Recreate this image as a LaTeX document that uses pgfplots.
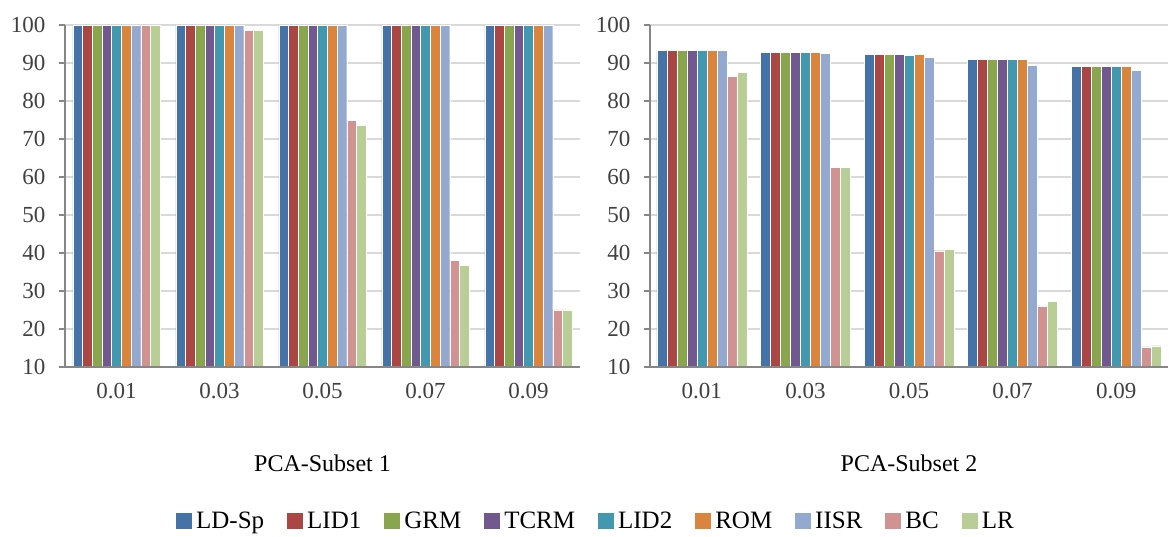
\documentclass[border=0pt]{standalone}
\usepackage{pgfplots}
\pgfplotsset{compat=1.18}
\usepackage{pgfplotstable}
\usepackage{fontspec}
\setmainfont{Liberation Serif}
\definecolor{c1}{HTML}{4572A7}
\definecolor{c2}{HTML}{AA4643}
\definecolor{c3}{HTML}{89A54E}
\definecolor{c4}{HTML}{71588F}
\definecolor{c5}{HTML}{4198AF}
\definecolor{c6}{HTML}{DB843D}
\definecolor{c7}{HTML}{93A9CF}
\definecolor{c8}{HTML}{D19392}
\definecolor{c9}{HTML}{B9CD96}
\definecolor{axisgray}{HTML}{868686}
\definecolor{gridgray}{HTML}{D9D9D9}
\definecolor{labelgray}{HTML}{404040}

\pgfplotstableread{
x LDSp LID1 GRM TCRM LID2 ROM IISR BC LR
0 100 100 100 100 100 100 100 100 100
1 100 100 100 100 100 100 100 98.6 98.6
2 100 100 100 100 100 100 100 75 73.7
3 100 100 100 100 100 100 100 38.1 36.8
4 100 100 100 100 100 100 100 25 25
}\subsetone

\pgfplotstableread{
x LDSp LID1 GRM TCRM LID2 ROM IISR BC LR
0 93.4 93.4 93.4 93.4 93.4 93.4 93.4 86.5 87.5
1 92.8 92.8 92.8 92.8 92.8 92.8 92.5 62.5 62.5
2 92.3 92.3 92.3 92.3 92.0 92.3 91.4 40.6 41.0
3 90.9 90.9 90.9 90.9 90.9 90.9 89.4 26.1 27.2
4 89.1 89.1 89.1 89.1 89.1 89.1 88.1 15.3 15.6
}\subsettwo

\pgfplotsset{
 layers/mylayers/.define layer set={
   axis background,axis grid,pre main,main,axis ticks,axis lines,
   axis tick labels,axis descriptions,axis foreground
 }{
  grid style={/pgfplots/on layer=axis grid},
  tick style={/pgfplots/on layer=axis ticks},
  axis line style={/pgfplots/on layer=axis lines},
  label style={/pgfplots/on layer=axis descriptions},
  legend style={/pgfplots/on layer=axis descriptions},
  title style={/pgfplots/on layer=axis descriptions},
  colorbar style={/pgfplots/on layer=axis descriptions},
  ticklabel style={/pgfplots/on layer=axis tick labels},
  axis background@ style={/pgfplots/on layer=axis background},
  3d box foreground style={/pgfplots/on layer=axis foreground},
 },
 mybars/.style={
  set layers=mylayers,
  ybar=0pt,
  scale only axis, height=342pt,
  ymin=10, ymax=100, ytick={10,20,...,100},
  xmin=-0.5, xmax=4.5, xtick={0,...,4},
  xticklabels={0.01,0.03,0.05,0.07,0.09},
  axis x line*=bottom, axis y line*=left,
  axis line style={draw=axisgray, line width=1.2pt},
  ymajorgrids, grid style={draw=gridgray, line width=1.5pt},
  tick align=outside, major tick length=6pt,
  ytick style={draw=axisgray, line width=1.2pt},
  xtick style={draw=none},
  tick label style={text=labelgray, font=\fontsize{23}{27}\selectfont},
  /pgf/number format/assume math mode=true,
  yticklabel style={xshift=-10pt},
  xticklabel style={yshift=-7pt},
  label style={font=\fontsize{24}{28}\selectfont},
  every axis plot/.append style={draw=white, line width=0.4pt},
  xlabel style={at={(axis description cs:0.5,-0.281)}, anchor=center},
 }
}

\begin{document}
\begin{tikzpicture}
\path (0,0) rectangle (1171pt,536pt);
\begin{axis}[mybars, at={(65pt,169pt)}, anchor=south west, width=515pt,
  bar width=0.094, xlabel={PCA-Subset 1},
  legend columns=9,
  legend style={draw=none, fill=none, at={(1.029,-0.450)}, anchor=center,
    font=\fontsize{25}{29}\selectfont,
    /tikz/every odd column/.append style={column sep=4pt},
    /tikz/every even column/.append style={column sep=23pt},
    nodes={inner xsep=0pt, inner ysep=1pt, text=black}},
  legend image code/.code={\fill[#1,draw=none] (0pt,-8pt) rectangle (16pt,8pt);}]
\addplot[fill=c1] table[x=x,y=LDSp]{\subsetone};
\addplot[fill=c2] table[x=x,y=LID1]{\subsetone};
\addplot[fill=c3] table[x=x,y=GRM]{\subsetone};
\addplot[fill=c4] table[x=x,y=TCRM]{\subsetone};
\addplot[fill=c5] table[x=x,y=LID2]{\subsetone};
\addplot[fill=c6] table[x=x,y=ROM]{\subsetone};
\addplot[fill=c7] table[x=x,y=IISR]{\subsetone};
\addplot[fill=c8] table[x=x,y=BC]{\subsetone};
\addplot[fill=c9] table[x=x,y=LR]{\subsetone};
\legend{LD-Sp,LID1,GRM,TCRM,LID2,ROM,IISR,BC,LR}
\end{axis}
\begin{axis}[mybars, at={(650pt,169pt)}, anchor=south west, width=518pt,
  bar width=0.0965, xlabel={PCA-Subset 2}]
\addplot[fill=c1] table[x=x,y=LDSp]{\subsettwo};
\addplot[fill=c2] table[x=x,y=LID1]{\subsettwo};
\addplot[fill=c3] table[x=x,y=GRM]{\subsettwo};
\addplot[fill=c4] table[x=x,y=TCRM]{\subsettwo};
\addplot[fill=c5] table[x=x,y=LID2]{\subsettwo};
\addplot[fill=c6] table[x=x,y=ROM]{\subsettwo};
\addplot[fill=c7] table[x=x,y=IISR]{\subsettwo};
\addplot[fill=c8] table[x=x,y=BC]{\subsettwo};
\addplot[fill=c9] table[x=x,y=LR]{\subsettwo};
\end{axis}
\end{tikzpicture}
\end{document}
